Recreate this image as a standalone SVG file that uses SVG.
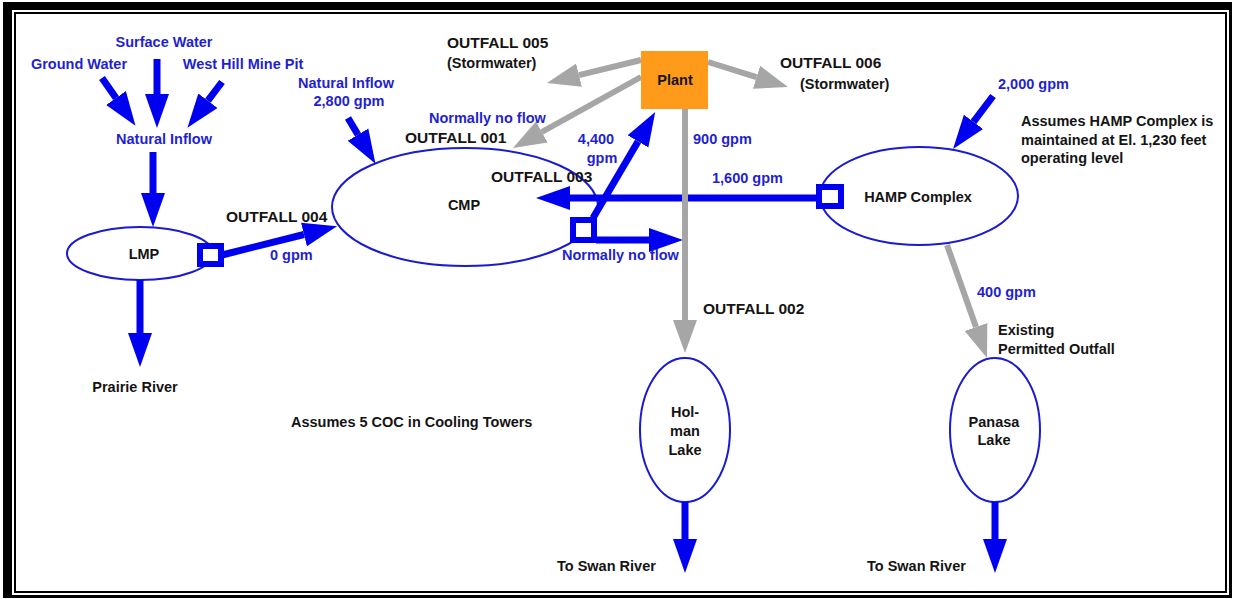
<svg xmlns="http://www.w3.org/2000/svg" width="1233" height="599" viewBox="0 0 1233 599">
<defs>
<style>
text{font-family:"Liberation Sans",Arial,sans-serif;font-weight:bold;font-size:14.5px}
.b{fill:#1f1fd2}
.k{fill:#141414}
.o{font-size:15.5px}
.m{text-anchor:middle}
.lake{fill:#fff;stroke:#1a1ad0;stroke-width:2}
.sq{fill:#fff;stroke:#0000f0;stroke-width:6}
.ba{stroke:#0000f0;stroke-width:7;fill:none;marker-end:url(#hb)}
.ga{stroke:#a6a6a6;stroke-width:6;fill:none;marker-end:url(#hg)}
</style>
<marker id="hb" markerUnits="userSpaceOnUse" markerWidth="40" markerHeight="30" viewBox="0 -15 40 30" refX="0" refY="0" orient="auto">
<path d="M0,-12 L34,0 L0,12 z" fill="#0000f0"/>
</marker>
<marker id="hg" markerUnits="userSpaceOnUse" markerWidth="40" markerHeight="30" viewBox="0 -15 40 30" refX="0" refY="0" orient="auto">
<path d="M0,-12 L33,0 L0,12 z" fill="#a6a6a6"/>
</marker>
</defs>
<rect width="1233" height="599" fill="#fff"/>
<g id="frame">
<rect x="3" y="2" width="1229" height="596" fill="#000"/>
<rect x="12" y="10" width="1217" height="585" fill="#fff"/>
<rect x="15" y="13" width="1211" height="579" fill="#fff" stroke="#000" stroke-width="2"/>
</g>
<g id="node-lmp">
<ellipse class="lake" cx="140" cy="253.5" rx="73" ry="26.5"/>
<text class="k m" x="144" y="259">LMP</text>
</g>
<g id="node-cmp">
<ellipse class="lake" cx="465" cy="207" rx="133" ry="59"/>
<text class="k m" x="464" y="210">CMP</text>
</g>
<g id="node-hamp">
<ellipse class="lake" cx="919" cy="196" rx="99" ry="49"/>
<text class="k m" x="918" y="202">HAMP Complex</text>
</g>
<g id="node-holman">
<ellipse class="lake" cx="685" cy="430" rx="45" ry="72"/>
<text class="k m" x="685" y="417">Hol-</text>
<text class="k m" x="685" y="436">man</text>
<text class="k m" x="685" y="455">Lake</text>
</g>
<g id="node-panasa">
<ellipse class="lake" cx="995" cy="430" rx="45" ry="72"/>
<text class="k m" x="994" y="427">Panasa</text>
<text class="k m" x="994" y="445">Lake</text>
</g>
<g id="connectors">
<line class="ba" x1="102" y1="78" x2="116" y2="98"/>
<line class="ba" x1="157" y1="59" x2="157" y2="94"/>
<line class="ba" x1="222" y1="82" x2="207.9" y2="100.7"/>
<line class="ba" x1="153" y1="152" x2="153" y2="193"/>
<line class="ba" x1="140" y1="280" x2="140" y2="333"/>
<line class="ba" x1="222" y1="255" x2="304" y2="234.5"/>
<line class="ba" x1="348" y1="118" x2="358" y2="134.7"/>
<line class="ba" x1="593" y1="218" x2="638" y2="141.4"/>
<line class="ba" x1="816" y1="198" x2="570" y2="198"/>
<line class="ba" x1="596" y1="240" x2="649" y2="240"/>
<line class="ba" x1="993" y1="96" x2="973.5" y2="121.9"/>
<line class="ba" x1="685" y1="502" x2="685" y2="539"/>
<line class="ba" x1="995" y1="502" x2="995" y2="539"/>
<line class="ga" x1="641" y1="60" x2="579" y2="75.1"/>
<line class="ga" x1="708" y1="62" x2="756.5" y2="77.2"/>
<line class="ga" x1="641" y1="77" x2="541.8" y2="132"/>
<line class="ga" x1="685" y1="109" x2="685" y2="320"/>
<line class="ga" x1="947" y1="245" x2="976" y2="327"/>
<rect class="sq" x="200" y="246" width="21" height="18"/>
<rect class="sq" x="573" y="220" width="21" height="20"/>
<rect class="sq" x="819" y="187" width="22" height="19"/>
</g>
<g id="node-plant">
<rect x="641" y="51" width="67" height="58" fill="#ff9a1a"/>
<text class="k m" x="675" y="85">Plant</text>
</g>
<g id="labels">
<text class="b m" x="164" y="47">Surface Water</text>
<text class="b m" x="79" y="69">Ground Water</text>
<text class="b m" x="243" y="69">West Hill Mine Pit</text>
<text class="b m" x="164" y="144">Natural Inflow</text>
<text class="b m" x="346" y="88">Natural Inflow</text>
<text class="b m" x="349" y="106">2,800 gpm</text>
<text class="k o" x="447" y="48">OUTFALL 005</text>
<text class="k" x="447" y="68">(Stormwater)</text>
<text class="k o" x="780" y="68">OUTFALL 006</text>
<text class="k" x="800" y="89">(Stormwater)</text>
<text class="b" x="429" y="123">Normally no flow</text>
<text class="k o" x="405" y="143">OUTFALL 001</text>
<text class="b m" x="596" y="144">4,400</text>
<text class="b m" x="602" y="163">gpm</text>
<text class="b" x="693" y="144">900 gpm</text>
<text class="k o" x="491" y="182">OUTFALL 003</text>
<text class="b" x="712" y="183">1,600 gpm</text>
<text class="b" x="562" y="260">Normally no flow</text>
<text class="k o" x="703" y="314">OUTFALL 002</text>
<text class="k o" x="226" y="222">OUTFALL 004</text>
<text class="b" x="270" y="260">0 gpm</text>
<text class="b" x="998" y="89">2,000 gpm</text>
<text class="k" x="1021" y="126">Assumes HAMP Complex is</text>
<text class="k" x="1021" y="145">maintained at El. 1,230 feet</text>
<text class="k" x="1021" y="163">operating level</text>
<text class="b" x="977" y="297">400 gpm</text>
<text class="k" x="998" y="335">Existing</text>
<text class="k" x="998" y="354">Permitted Outfall</text>
<text class="k m" x="135" y="392">Prairie River</text>
<text class="k" x="291" y="427">Assumes 5 COC in Cooling Towers</text>
<text class="k" x="557" y="571">To Swan River</text>
<text class="k" x="867" y="571">To Swan River</text>
</g>
</svg>
